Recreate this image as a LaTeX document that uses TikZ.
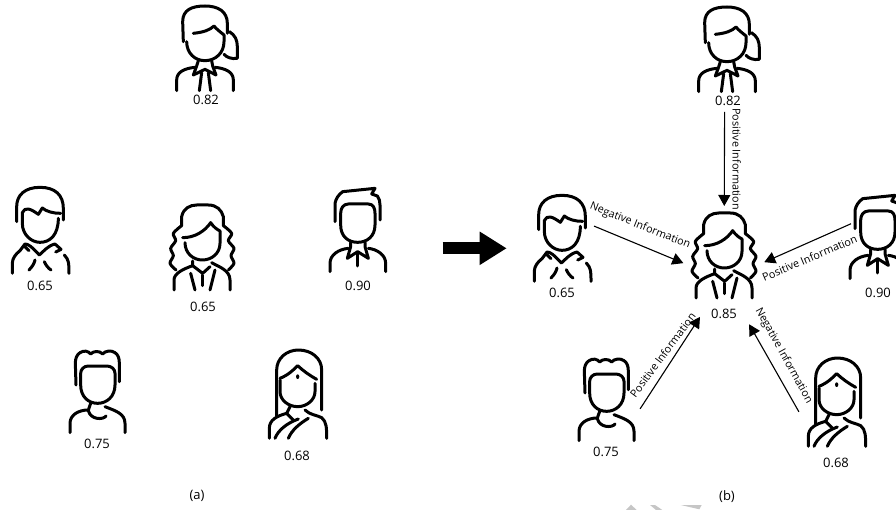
\documentclass[tikz,border=0pt]{standalone}
\usepackage{fontspec}
\setmainfont{Open Sans}
\usetikzlibrary{positioning, arrows.meta}

\tikzset{
    ponytail/.pic={
        \begin{scope}[scale=1/3, icon]
            \draw (100,125) -- (98,65) .. controls (98,30) and (125,18) .. (165,18) .. controls (205,18) and (232,35) .. (232,70) -- (232,100);
            \draw (130,100) .. controls (160,97) and (180,90) .. (192,78) .. controls (200,88) and (210,95) .. (222,105) -- (222,125) .. controls (222,160) and (195,182) .. (165,182) .. controls (135,182) and (110,160) .. (110,125);
            \draw (238,95) .. controls (255,105) and (262,120) .. (262,140) -- (262,175) .. controls (245,178) and (230,172) .. (222,163);
            \draw (80,272) -- (80,240) .. controls (80,215) and (105,205) .. (135,202);
            \draw (250,272) -- (250,240) .. controls (250,215) and (225,205) .. (195,202);
            \draw (145,182) -- (140,198) -- (130,225) -- (165,208) -- (198,225) -- (188,198) -- (185,182);
            \draw (155,218) -- (148,272);
            \draw (175,218) -- (182,272);
        \end{scope}
    },
    boyfringe/.pic={
        \begin{scope}[scale=1/3, icon]
            \draw (35,125) -- (35,80) .. controls (35,45) and (60,22) .. (105,22) .. controls (150,22) and (175,45) .. (175,85) -- (175,120);
            \draw (52,130) -- (52,98) .. controls (60,80) and (75,85) .. (100,103) -- (112,84) .. controls (125,95) and (145,100) .. (167,100);
            \draw (52,130) .. controls (52,165) and (80,187) .. (105,187) .. controls (135,187) and (160,165) .. (160,115);
            \draw (22,280) -- (22,250) .. controls (22,235) and (32,222) .. (45,212) -- (60,192) .. controls (70,192) and (80,200) .. (103,225) .. controls (120,210) and (128,198) .. (150,192) -- (168,208) -- (152,216);
            \draw (60,200) -- (72,212);
            \draw (178,225) .. controls (192,240) and (192,250) .. (192,280);
            \draw (72,270) .. controls (82,260) and (88,250) .. (90,240);
            \draw (118,245) .. controls (122,255) and (130,265) .. (138,270);
        \end{scope}
    },
    curly/.pic={
        \begin{scope}[scale=1/3, icon]
            \draw plot[smooth] coordinates {(48,225) (30,205) (40,182) (32,160) (47,137) (40,115) (65,92)};
            \draw plot[smooth] coordinates {(205,225) (222,205) (213,182) (222,160) (205,137) (215,115) (190,92)};
            \draw (65,92) -- (65,65) .. controls (70,40) and (90,30) .. (110,30) -- (145,30) .. controls (170,30) and (185,45) .. (190,65) -- (190,92);
            \draw (68,128) .. controls (105,128) and (135,108) .. (152,83) .. controls (160,95) and (170,103) .. (180,108) -- (180,145) .. controls (180,175) and (155,195) .. (127,195) .. controls (100,195) and (75,175) .. (75,143);
            \draw (42,285) -- (42,255) .. controls (42,235) and (70,222) .. (98,212) -- (98,198);
            \draw (98,212) -- (128,235) -- (150,215);
            \draw (155,203) .. controls (175,215) and (210,225) .. (210,255) -- (210,285);
            \draw (92,235) -- (105,285);
            \draw (128,240) -- (128,272);
            \draw (165,225) -- (150,285);
        \end{scope}
    },
    slick/.pic={
        \begin{scope}[scale=1/3, icon]
            \draw (45,125) -- (45,70) .. controls (48,55) and (55,45) .. (68,35) -- (165,25) -- (155,42) -- (172,48) .. controls (178,55) and (180,65) .. (180,75) -- (180,120);
            \draw (62,100) .. controls (62,85) and (70,72) .. (85,72) -- (145,72) .. controls (160,72) and (165,85) .. (165,100) -- (165,135) .. controls (165,170) and (140,187) .. (113,187) .. controls (85,187) and (62,170) .. (62,135) -- cycle;
            \draw (30,275) -- (30,250) .. controls (30,225) and (55,208) .. (85,205);
            \draw (197,275) -- (197,250) .. controls (197,225) and (172,208) .. (145,205);
            \draw (92,187) -- (92,200) -- (82,235) -- (113,215) -- (145,235) -- (135,200) -- (135,187);
            \draw (113,220) -- (113,258);
        \end{scope}
    },
    wavy/.pic={
        \begin{scope}[scale=1/3, icon]
            \draw (48,135) -- (46,70) .. controls (46,55) and (50,45) .. (60,38) .. controls (72,30) and (85,33) .. (92,42) .. controls (100,32) and (120,32) .. (128,42) .. controls (135,32) and (155,30) .. (165,38) .. controls (175,45) and (178,55) .. (178,70) -- (178,125);
            \draw (62,100) .. controls (62,88) and (72,78) .. (85,78) -- (140,78) .. controls (155,78) and (165,88) .. (165,100) -- (165,135) .. controls (165,170) and (140,190) .. (113,190) .. controls (85,190) and (62,170) .. (62,135) -- cycle;
            \draw (30,278) -- (30,250) .. controls (30,225) and (55,210) .. (85,210) -- (92,190);
            \draw (85,212) .. controls (92,240) and (130,240) .. (138,228);
            \draw (135,200) .. controls (165,212) and (195,220) .. (195,250) -- (195,278);
        \end{scope}
    },
    sari/.pic={
        \begin{scope}[scale=1/3, icon]
            \draw (50,215) -- (50,75) .. controls (50,40) and (80,15) .. (115,15) .. controls (155,15) and (185,40) .. (185,75) -- (185,195);
            \draw (60,100) .. controls (85,90) and (100,75) .. (113,62) .. controls (130,78) and (150,92) .. (170,103);
            \fill (113,95) ellipse (5 and 7);
            \draw (60,105) -- (60,140) .. controls (60,165) and (85,185) .. (113,185) .. controls (140,185) and (165,165) .. (165,140) -- (165,115);
            \draw (28,280) -- (28,250) .. controls (28,225) and (50,213) .. (80,205) -- (90,185);
            \draw (80,205) -- (100,225);
            \draw (45,280) .. controls (55,255) and (80,235) .. (115,222);
            \draw (85,280) .. controls (95,255) and (120,235) .. (145,220);
            \draw (135,195) .. controls (150,210) and (170,210) .. (185,218) .. controls (200,230) and (200,250) .. (200,280);
        \end{scope}
    }
}

\begin{document}
\begin{tikzpicture}[x=1pt, y=-1pt,
    icon/.style={line width=3pt, line cap=round, line join=round},
    person/.style={circle, minimum size=#1, inner sep=0pt, outer sep=0pt},
    score/.style={font=\fontsize{13}{15}\selectfont, inner sep=0pt},
    caption/.style={font=\fontsize{13}{15}\selectfont, inner sep=0pt},
    info/.style={font=\fontsize{10.8}{12}\selectfont, inner sep=0pt},
    link/.style={line width=1.1pt, -{Triangle[length=11pt,width=12pt]}},
    bigarrow/.style={line width=12pt, -{Triangle[length=27pt,width=31.5pt]}},
    smudge/.style={fill=gray!45, draw=none}]
    \useasboundingbox (0,0) rectangle (896,510);

    % panel a
    \pic at (150,0) {ponytail};
    \pic at (5,180) {boyfringe};
    \pic at (160,195) {curly};
    \pic at (320,180) {slick};
    \pic at (60,340) {wavy};
    \pic at (260,345) {sari};
    \node[score] (scoreAa) at (206,100) {0.82};
    \node[score] (scoreAb) at (40,286) {0.65};
    \node[score] (scoreAc) at (203,307) {0.65};
    \node[score] (scoreAd) at (358,286) {0.90};
    \node[score] (scoreAe) at (97,444) {0.75};
    \node[score] (scoreAf) at (297,456) {0.68};
    \node[caption] (capA) at (197,496) {(a)};

    % big arrow
    \coordinate (arrowTail) at (442.7,248.3);
    \coordinate (arrowTip) at (506.7,248.3);
    \draw[bigarrow] (arrowTail) -- (arrowTip);

    % panel b
    \pic at (672,1) {ponytail};
    \pic at (527,188) {boyfringe};
    \pic at (682,203) {curly};
    \pic at (840,187) {slick};
    \pic at (569,348) {wavy};
    \pic at (799,353) {sari};
    \node[score] (scoreBa) at (728,101) {0.82};
    \node[score] (scoreBb) at (562,293) {0.65};
    \node[score] (scoreBc) at (724,314) {0.85};
    \node[score] (scoreBd) at (878,293) {0.90};
    \node[score] (scoreBe) at (606,452) {0.75};
    \node[score] (scoreBf) at (836,463) {0.68};
    \node[caption] (capB) at (727,497) {(b)};

    % anchors of the people in b
    \node[person=138pt] (ponytailB) at (727,43) {};
    \node[person=64.5pt] (boyB) at (562,230) {};
    \node[person=88pt] (curlyB) at (724,280) {};
    \node[person=55pt] (slickB) at (878,229) {};
    \node[person=75.2pt] (wavyB) at (606,393) {};
    \node[person=83.2pt] (sariB) at (836,393) {};

    \draw[link, shorten >=30pt] (ponytailB.-92.5) -- (curlyB);
    \draw[link] (boyB.7.1) -- (curlyB);
    \draw[link] (slickB.169.5) -- (curlyB);
    \draw[link] (wavyB.-25.2) -- (curlyB);
    \draw[link, shorten >=7pt] (sariB.207.2) -- (curlyB);

    \node[info, rotate=-90] (infoTop) at (736.7,159) {Positive Information};
    \node[info, rotate=-21.6] (infoLeft) at (640,226) {Negative Information};
    \node[info, rotate=23] (infoRight) at (809.5,258) {Positive Information};
    \node[info, rotate=53.5] (infoLow) at (662.7,355) {Positive Information};
    \node[info, rotate=-61] (infoSari) at (783.7,355.7) {Negative Information};

    % grey marks on the bottom edge
    \fill[smudge] (626,510) -- (631,504.7) -- (636.7,510) -- cycle;
    \fill[smudge] (650,505) -- (655,505) -- (662.3,510) -- (656,510) -- cycle;
    \fill[smudge] (680.7,505) -- (701.7,505) -- (699.3,509.3) -- (695,508.3) -- cycle;
\end{tikzpicture}
\end{document}
